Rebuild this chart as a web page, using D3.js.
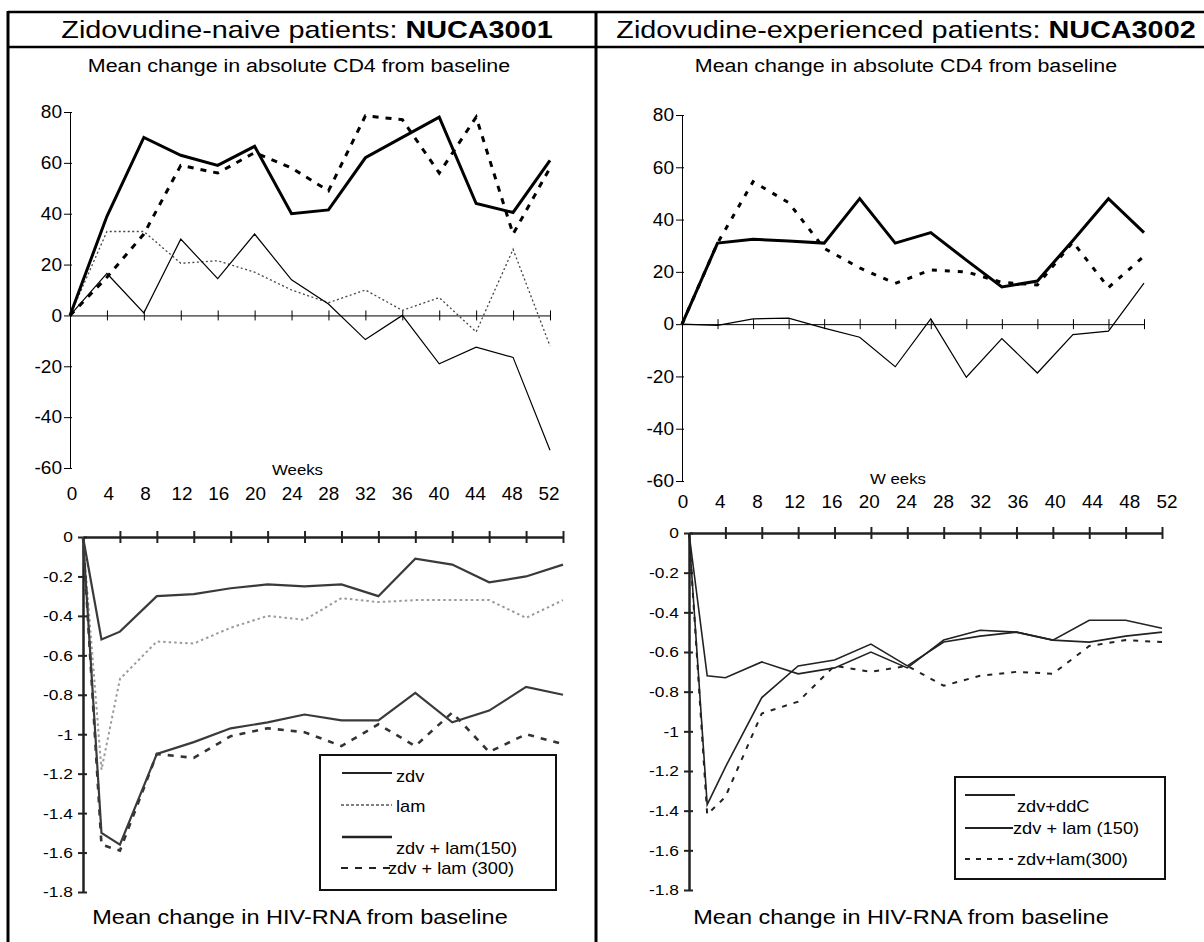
<!DOCTYPE html>
<html><head><meta charset="utf-8">
<script src="https://cdn.jsdelivr.net/npm/d3@7"></script>
<style>
body{margin:0;background:#fff}
svg{display:block}
text{font-family:"Liberation Sans",Arial,Helvetica,sans-serif;fill:#000}
</style>
</head><body>
<svg id="c" width="1204" height="942"></svg>
<script>
// ---------- data ----------
const weeksCD4 = [0,4,8,12,16,20,24,28,32,36,40,44,48,52];
const weeksRNA = [0,2,4,8,12,16,20,24,28,32,36,40,44,48,52];
const weekTickLabels = ["0","4","8","12","16","20","24","28","32","36","40","44","48","52"];
const cd4Ticks = [80,60,40,20,0,-20,-40,-60];
const rnaTicks = [0,-0.2,-0.4,-0.6,-0.8,-1,-1.2,-1.4,-1.6,-1.8];
const rnaTickLabels = ["0","-0.2","-0.4","-0.6","-0.8","-1","-1.2","-1.4","-1.6","-1.8"];

// NUCA3001 CD4
const cd4_3001_zdvLam150 = [0,39,70,63,59,66.5,40,41.5,62,70,78,44,40.5,61];
const cd4_3001_zdvLam300 = [0,15,32,59,56,64,58,49,78.5,77,56,78,32,58];
const cd4_3001_zdv       = [0,16.5,1,30,14.5,32,14,4.5,-9.5,0,-19,-12.5,-16.5,-53];
const cd4_3001_lam       = [0,33,33,20.5,21.5,17,10,5,10,2,7,-6.5,26,-12];

// NUCA3002 CD4
const cd4_3002_zdvLam150 = [0,31,32.5,31.8,31,48,31,35,24.5,14.2,16.5,32,48,35];
const cd4_3002_zdvLam300 = [0,31,54.5,46.5,29,21.5,15.6,20.7,20,16,15,31.4,14,26];
const cd4_3002_zdvDdC    = [0,-0.5,2,2.3,-1.5,-5,-16.3,2,-20.3,-5.5,-18.7,-4,-2.7,15.7];

// NUCA3001 HIV-RNA
const rna_3001_zdv       = [0,-0.52,-0.48,-0.30,-0.29,-0.26,-0.24,-0.25,-0.24,-0.30,-0.11,-0.14,-0.23,-0.20,-0.14];
const rna_3001_lam       = [0,-1.18,-0.72,-0.53,-0.54,-0.46,-0.40,-0.42,-0.31,-0.33,-0.32,-0.32,-0.32,-0.41,-0.32];
const rna_3001_zdvLam150 = [0,-1.50,-1.56,-1.10,-1.04,-0.97,-0.94,-0.90,-0.93,-0.93,-0.79,-0.94,-0.88,-0.76,-0.80];
const rna_3001_zdvLam300 = [0,-1.56,-1.59,-1.10,-1.12,-1.01,-0.97,-0.99,-1.06,-0.95,-1.06,-0.89,-1.09,-1.00,-1.05];

// NUCA3002 HIV-RNA
const rna_3002_zdvDdC    = [0,-0.72,-0.73,-0.65,-0.71,-0.68,-0.60,-0.68,-0.54,-0.49,-0.50,-0.54,-0.44,-0.44,-0.48];
const rna_3002_zdvLam150 = [0,-1.37,-1.18,-0.83,-0.67,-0.64,-0.56,-0.67,-0.55,-0.52,-0.50,-0.54,-0.55,-0.52,-0.50];
const rna_3002_zdvLam300 = [0,-1.42,-1.33,-0.91,-0.85,-0.67,-0.70,-0.67,-0.77,-0.72,-0.70,-0.71,-0.57,-0.54,-0.55];

const legend3001 = ["zdv","lam","zdv + lam(150)","zdv + lam (300)"];
const legend3002 = ["zdv+ddC","zdv + lam (150)","zdv+lam(300)"];

// ---------- helpers ----------
const svg = d3.select("#c");

function label(x, y, s, size, anchor, sx, weight){
  return svg.append("text")
    .attr("transform", `translate(${x},${y}) scale(${sx},1)`)
    .attr("text-anchor", anchor || "middle")
    .attr("dy", "0.35em")
    .style("font-size", size + "px")
    .style("font-weight", weight || "normal")
    .text(s);
}
function header(x, y, a, b){
  const t = svg.append("text")
    .attr("transform", `translate(${x},${y}) scale(1.2,1)`)
    .attr("text-anchor", "middle").attr("dy", "0.35em")
    .style("font-size", "24px");
  t.append("tspan").text(a);
  t.append("tspan").style("font-weight", "bold").text(b);
}
function drawLine(x, y, weeks, vals, st){
  svg.append("path")
    .datum(vals.map((v, i) => [weeks[i], v]))
    .attr("fill", "none")
    .attr("stroke", st.color || "#000")
    .attr("stroke-width", st.w)
    .attr("stroke-dasharray", st.dash || null)
    .attr("stroke-linejoin", "miter")
    .attr("d", d3.line().x(d => x(d[0])).y(d => y(d[1])));
}

// ---------- frame ----------
svg.append("line").attr("x1",8).attr("x2",1204).attr("y1",12).attr("y2",12).attr("stroke","#000").attr("stroke-width",2.5);
svg.append("line").attr("x1",8).attr("x2",1204).attr("y1",47).attr("y2",47).attr("stroke","#000").attr("stroke-width",2.5);
svg.append("line").attr("x1",8).attr("x2",8).attr("y1",11).attr("y2",942).attr("stroke","#000").attr("stroke-width",3);
svg.append("line").attr("x1",596).attr("x2",596).attr("y1",11).attr("y2",942).attr("stroke","#000").attr("stroke-width",3);

header(307, 30, "Zidovudine-naive patients: ", "NUCA3001");
header(906, 30, "Zidovudine-experienced patients: ", "NUCA3002");
label(299, 66, "Mean change in absolute CD4 from baseline", 18, "middle", 1.19);
label(906, 66, "Mean change in absolute CD4 from baseline", 18, "middle", 1.19);
label(300, 917, "Mean change in HIV-RNA from baseline", 21, "middle", 1.12);
label(901, 917, "Mean change in HIV-RNA from baseline", 21, "middle", 1.12);

// ---------- CD4 charts ----------
function cd4Chart(cfg){
  const x = d3.scaleLinear().domain([0,52]).range(cfg.xr);
  const y = d3.scaleLinear().domain([-60,80]).range(cfg.yr);
  const ga = svg.append("g").attr("transform", `translate(${cfg.xr[0]},0)`)
    .call(d3.axisLeft(y).tickValues(cd4Ticks).tickSizeInner(5).tickSizeOuter(0).tickPadding(3).tickFormat(d => String(d)));
  ga.select(".domain").attr("stroke","#000").attr("stroke-width",1);
  ga.selectAll(".tick line").attr("x1",2).attr("x2",-6).attr("stroke","#000");
  ga.selectAll(".tick text").style("font-size","18px").style("font-family",'"Liberation Sans",Arial,sans-serif')
    .attr("x", -7.5).attr("transform","scale(1.06,1)");
  const gx = svg.append("g").attr("transform", `translate(0,${y(0)})`)
    .call(d3.axisBottom(x).tickValues(weeksCD4.slice(1)).tickSizeInner(5).tickSizeOuter(0).tickFormat(""));
  gx.select(".domain").attr("stroke","#000").attr("stroke-width",1);
  gx.selectAll(".tick line").attr("y1",-5).attr("y2",5).attr("stroke","#000");
  const xl = d3.scalePoint().domain(weekTickLabels).range(cfg.labR);
  weekTickLabels.forEach(w => label(xl(w), cfg.labY, w, 18, "middle", 1.05));
  label(cfg.weeksX, cfg.weeksY, cfg.weeksText, 14, "start", 1.2);
  cfg.series.forEach(s => drawLine(x, y, weeksCD4, s.v, s));
}

cd4Chart({
  xr:[70,550], yr:[468,112], labR:[72,549], labY:494,
  weeksX:272, weeksY:470, weeksText:"Weeks",
  series:[
    {v:cd4_3001_lam, w:1.3, dash:"2,2.5", color:"#444"},
    {v:cd4_3001_zdv, w:1.2},
    {v:cd4_3001_zdvLam300, w:3, dash:"6,7"},
    {v:cd4_3001_zdvLam150, w:3}
  ]
});
cd4Chart({
  xr:[682,1144], yr:[481,115], labR:[683,1167], labY:502,
  weeksX:870, weeksY:479, weeksText:"W eeks",
  series:[
    {v:cd4_3002_zdvDdC, w:1.2},
    {v:cd4_3002_zdvLam300, w:3, dash:"5,8"},
    {v:cd4_3002_zdvLam150, w:3}
  ]
});

// ---------- HIV-RNA charts ----------
function rnaChart(cfg){
  const x = d3.scaleLinear().domain([0,52]).range(cfg.xr);
  const y = d3.scaleLinear().domain([-1.8,0]).range(cfg.yr);
  const ga = svg.append("g").attr("transform", `translate(${cfg.xr[0]},0)`)
    .call(d3.axisLeft(y).tickValues(rnaTicks).tickSizeInner(4).tickSizeOuter(0).tickPadding(4)
      .tickFormat((d, i) => rnaTickLabels[i]));
  ga.select(".domain").attr("stroke","#222").attr("stroke-width",2.5);
  ga.selectAll(".tick line").attr("x1",4).attr("x2",-5).attr("stroke","#222").attr("stroke-width",2);
  ga.selectAll(".tick text").style("font-size","15.5px").style("font-family",'"Liberation Sans",Arial,sans-serif')
    .attr("x", -9).attr("transform","scale(1.12,1)");
  cfg.series.forEach(s => drawLine(x, y, weeksRNA, s.v, s));
  const gx = svg.append("g").attr("transform", `translate(0,${y(0)})`)
    .call(d3.axisBottom(x).tickValues(weeksCD4.slice(1)).tickSizeInner(5).tickSizeOuter(0).tickFormat(""));
  gx.select(".domain").attr("stroke","#222").attr("stroke-width",2.5);
  gx.selectAll(".tick line").attr("y1",-6).attr("y2",6).attr("stroke","#222").attr("stroke-width",2);
  const L = cfg.legend;
  svg.append("rect").attr("x",L.x).attr("y",L.y).attr("width",L.w).attr("height",L.h)
    .attr("fill","#fff").attr("stroke","#111").attr("stroke-width",2);
  L.items.forEach(it => {
    svg.append("line").attr("x1",it.x1).attr("x2",it.x2).attr("y1",it.ly).attr("y2",it.ly)
      .attr("stroke", it.color || "#222").attr("stroke-width", it.w).attr("stroke-dasharray", it.dash || null);
    label(it.tx, it.ty, it.text, 16, "start", 1.14);
  });
}

rnaChart({
  xr:[83,563], yr:[892,537],
  series:[
    {v:rna_3001_lam, w:2, dash:"2.5,3", color:"#9a9a9a"},
    {v:rna_3001_zdvLam300, w:2.6, dash:"6,7", color:"#333"},
    {v:rna_3001_zdv, w:2.2, color:"#3a3a3a"},
    {v:rna_3001_zdvLam150, w:2.2, color:"#3a3a3a"}
  ],
  legend:{x:320, y:755, w:236, h:135, items:[
    {x1:342,x2:392,ly:773,w:2,tx:396,ty:776,text:legend3001[0]},
    {x1:341,x2:392,ly:805,w:1.5,dash:"3,2",color:"#555",tx:396,ty:806,text:legend3001[1]},
    {x1:342,x2:392,ly:837,w:2.5,tx:396,ty:848,text:legend3001[2]},
    {x1:341,x2:390,ly:868,w:2,dash:"7,7",tx:388,ty:868,text:legend3001[3]}
  ]}
});

rnaChart({
  xr:[689,1162], yr:[890,533],
  series:[
    {v:rna_3002_zdvLam300, w:2, dash:"5,7", color:"#222"},
    {v:rna_3002_zdvDdC, w:1.6, color:"#222"},
    {v:rna_3002_zdvLam150, w:1.6, color:"#222"}
  ],
  legend:{x:955, y:777, w:210, h:102, items:[
    {x1:965,x2:1015,ly:795,w:1.8,tx:1017,ty:806,text:legend3002[0]},
    {x1:965,x2:1013,ly:828,w:2,tx:1013,ty:828,text:legend3002[1]},
    {x1:965,x2:1013,ly:859,w:1.8,dash:"5,6",tx:1017,ty:859,text:legend3002[2]}
  ]}
});
</script>
</body></html>
